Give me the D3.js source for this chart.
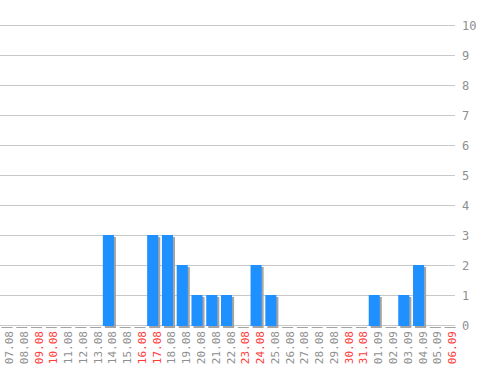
<!DOCTYPE html>
<html>
<head>
<meta charset="utf-8">
<script src="https://cdn.jsdelivr.net/npm/d3@7"></script>
<style>
  body { margin: 0; background: #fff; }
  text { font-family: "DejaVu Sans Mono", monospace; }
</style>
</head>
<body>
<div id="chart"></div>
<script>
'use strict';
var days = ['07.08','08.08','09.08','10.08','11.08','12.08','13.08','14.08','15.08','16.08',
  '17.08','18.08','19.08','20.08','21.08','22.08','23.08','24.08','25.08','26.08',
  '27.08','28.08','29.08','30.08','31.08','01.09','02.09','03.09','04.09','05.09','06.09'];
var counts = [0,0,0,0,0,0,0,3,0,0, 3,3,2,1,1,1,0,2,1,0, 0,0,0,0,0,1,0,1,2,0,0];
var weekends = ['09.08','10.08','16.08','17.08','23.08','24.08','30.08','31.08','06.09'];
var yTicks = [0,1,2,3,4,5,6,7,8,9,10];

var width = 498;
var height = 370;

var svg = d3.select('#chart')
  .append('svg')
  .attr('width', width)
  .attr('height', height);

var x = d3.scaleBand()
  .domain(days)
  .range([-2.4, 455.5])
  .paddingInner(0.25)
  .paddingOuter(0.125);

var y = d3.scaleLinear()
  .domain([0, 10])
  .range([325, 25]);

/* grid lines */
svg.append('g')
  .selectAll('line')
  .data(yTicks)
  .enter()
  .append('line')
  .attr('x1', 0)
  .attr('x2', 455)
  .attr('y1', function(d) { return y(d) + 0.5; })
  .attr('y2', function(d) { return y(d) + 0.5; })
  .style('stroke', '#c8c8c8')
  .style('stroke-width', 1);

/* y labels on the right */
svg.append('g')
  .selectAll('text')
  .data(yTicks)
  .enter()
  .append('text')
  .attr('x', 462)
  .attr('y', function(d) { return y(d) + 5; })
  .style('font-size', '12px')
  .style('fill', '#8f8f8f')
  .text(function(d) { return d; });

/* shadows */
svg.append('g')
  .selectAll('rect')
  .data(counts)
  .enter()
  .append('rect')
  .attr('x', function(d, i) { return x(days[i]) + 2; })
  .attr('y', function(d) { return y(d) + 2; })
  .attr('width', x.bandwidth())
  .attr('height', function(d) { return y(0) - y(d) + 1; })
  .style('fill', '#a4a4a4');

/* bars */
svg.append('g')
  .selectAll('rect')
  .data(counts)
  .enter()
  .append('rect')
  .attr('x', function(d, i) { return x(days[i]); })
  .attr('y', function(d) { return y(d); })
  .attr('width', x.bandwidth())
  .attr('height', function(d) { return y(0) - y(d) + 1; })
  .style('fill', function(d) { return d > 0 ? '#1e90ff' : 'none'; });

/* x labels */
svg.append('g')
  .selectAll('text')
  .data(days)
  .enter()
  .append('text')
  .attr('transform', function(d) {
    var cx = x(d) + x.bandwidth() / 2 + 8;
    return 'translate(' + cx + ',331) rotate(-90)';
  })
  .attr('text-anchor', 'end')
  .style('font-size', '11px')
  .style('fill', function(d) { return weekends.indexOf(d) >= 0 ? '#ff3b3b' : '#8f8f8f'; })
  .text(function(d) { return d; });
</script>
</body>
</html>
